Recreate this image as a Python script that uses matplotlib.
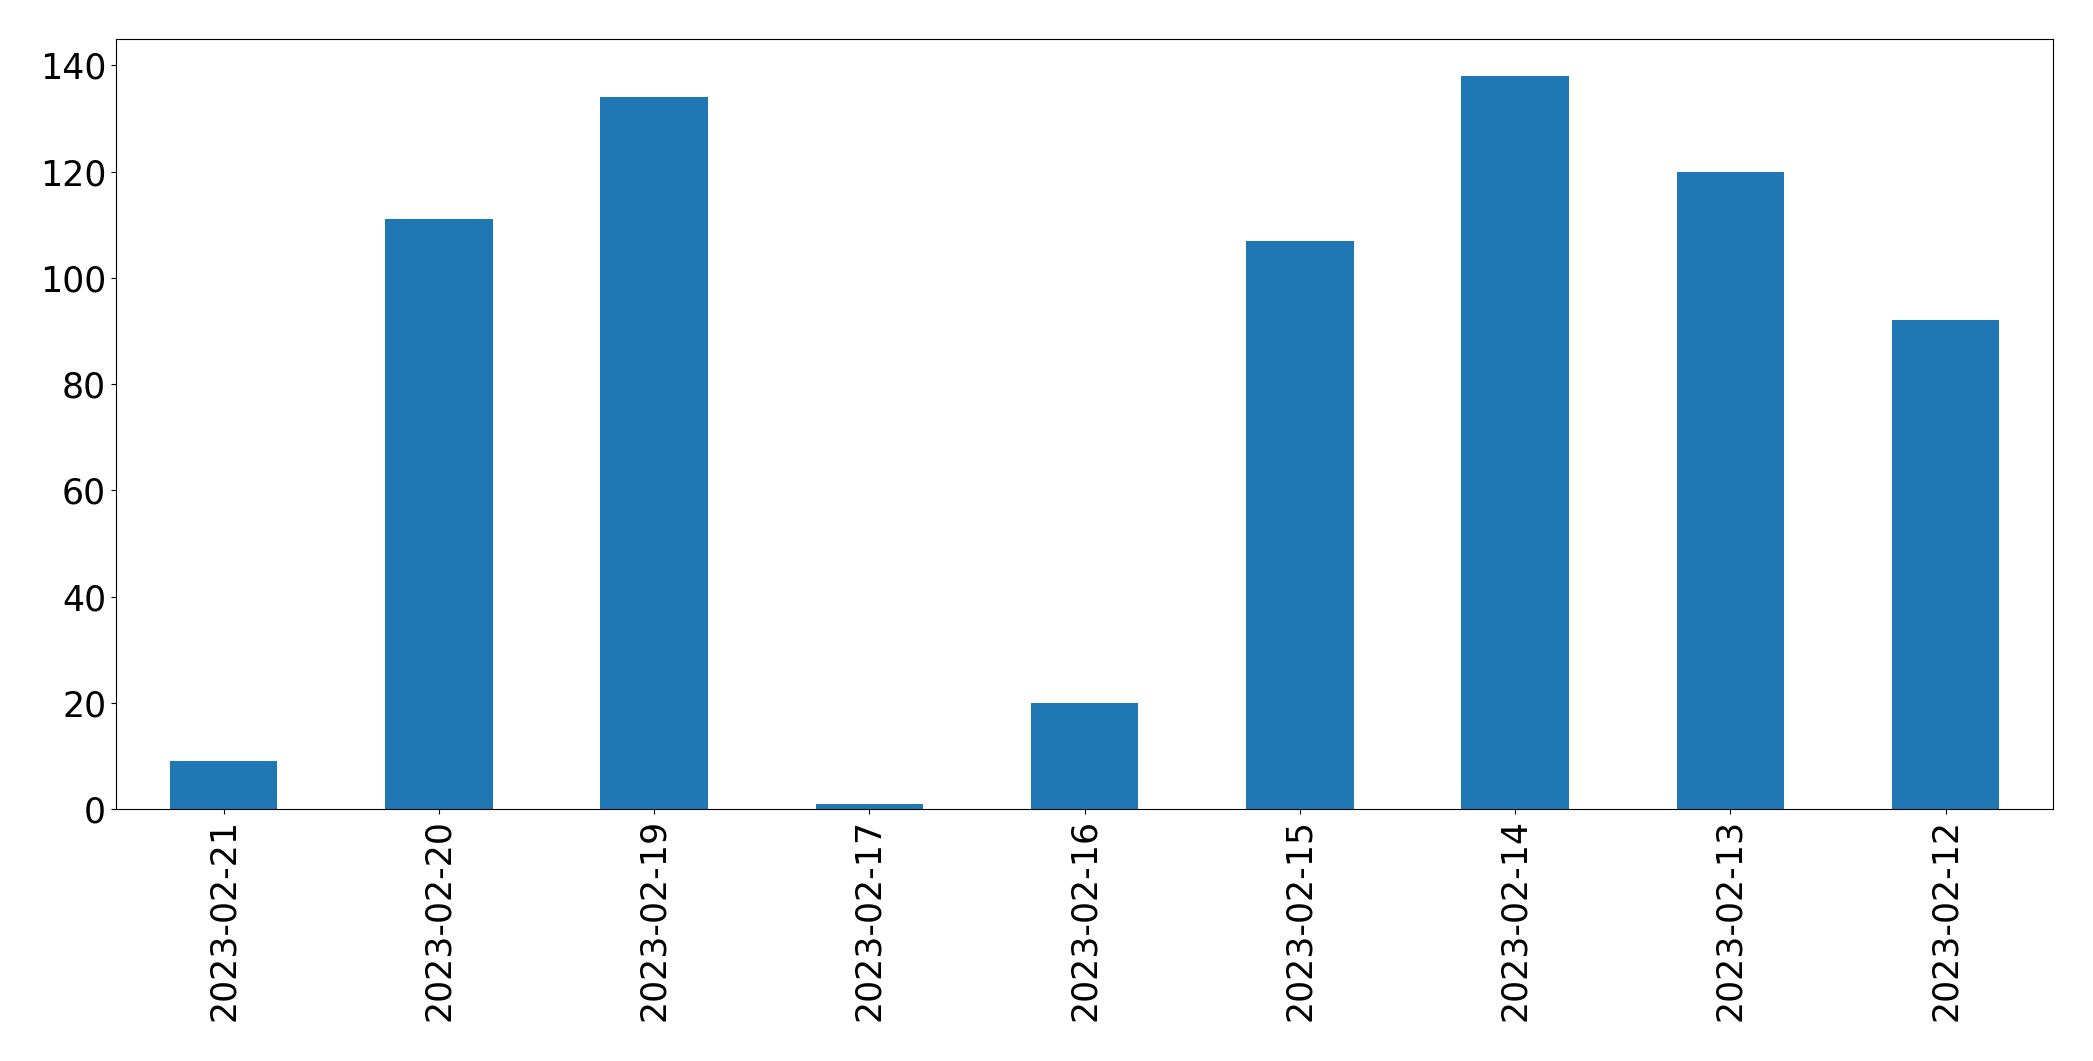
import matplotlib
matplotlib.use('Agg')
import matplotlib.pyplot as plt
import numpy as np

# dates (newest first, as in the source) and counts
dates = ['2023-02-21', '2023-02-20', '2023-02-19', '2023-02-17', '2023-02-16',
         '2023-02-15', '2023-02-14', '2023-02-13', '2023-02-12']
counts = [9, 111, 134, 1, 20, 107, 138, 120, 92]

x = np.arange(len(dates))

fig, ax = plt.subplots(figsize=(20.93, 10.61), dpi=100)
fig.subplots_adjust(left=0.0554, right=0.981, top=0.963, bottom=0.2375)

ax.bar(x, counts, width=0.5, color='#1f77b4')
ax.set_xlim(-0.5, len(dates) - 0.5)
ax.set_xticks(x)
ax.set_xticklabels(dates, rotation=90)
ax.tick_params(axis='both', labelsize=25)

fig.savefig('out.png', dpi=100)
